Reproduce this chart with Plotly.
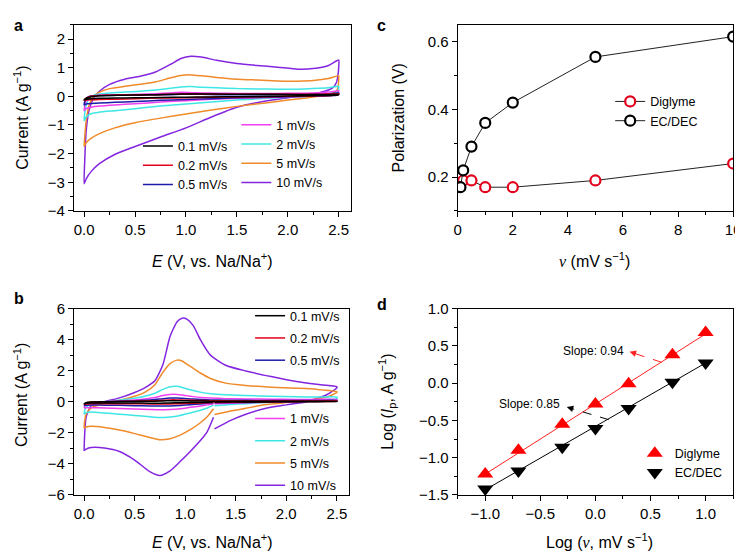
import plotly.graph_objects as go

# ---------------- Panel a : CV curves (EC/DEC) ----------------
EA_UP = [0, 0.005, 0.02, 0.05, 0.1, 0.15, 0.25, 0.4, 0.55, 0.7, 0.85, 0.95, 1.05, 1.15, 1.3, 1.5, 1.7, 1.9, 2.1, 2.25, 2.4, 2.5]
EA_DN = [2.5, 2.495, 2.48, 2.45, 2.4, 2.3, 2.2, 2.0, 1.8, 1.5, 1.25, 1.0, 0.75, 0.5, 0.3, 0.15, 0.07, 0.02, 0]

A10_UP = [-3.05, -2.3, -1.2, -0.45, -0.02, 0.18, 0.42, 0.6, 0.7, 0.85, 1.12, 1.32, 1.40, 1.37, 1.26, 1.15, 1.08, 1.02, 0.95, 0.97, 1.08, 1.27]
A10_DN = [1.03, 0.8, 0.5, 0.33, 0.22, 0.12, 0.06, -0.05, -0.15, -0.38, -0.72, -1.1, -1.42, -1.75, -2.03, -2.35, -2.62, -2.88, -3.05]
A5_UP = [-1.75, -1.45, -0.85, -0.3, 0.02, 0.15, 0.27, 0.35, 0.42, 0.5, 0.65, 0.73, 0.75, 0.72, 0.66, 0.6, 0.57, 0.54, 0.53, 0.55, 0.62, 0.72]
A5_DN = [0.62, 0.35, 0.2, 0.12, 0.06, 0.0, -0.05, -0.13, -0.22, -0.35, -0.48, -0.62, -0.76, -0.92, -1.1, -1.3, -1.46, -1.62, -1.75]
A2_UP = [-0.85, -0.6, -0.3, -0.05, 0.05, 0.08, 0.12, 0.15, 0.18, 0.22, 0.28, 0.33, 0.34, 0.32, 0.3, 0.27, 0.26, 0.25, 0.25, 0.27, 0.3, 0.35]
A2_DN = [0.3, 0.2, 0.12, 0.08, 0.06, 0.03, 0.0, -0.03, -0.07, -0.13, -0.2, -0.27, -0.34, -0.43, -0.5, -0.55, -0.6, -0.72, -0.85]
A1_UP = [-0.5, -0.35, -0.15, -0.02, 0.02, 0.04, 0.05, 0.06, 0.07, 0.09, 0.12, 0.14, 0.13, 0.12, 0.11, 0.1, 0.1, 0.1, 0.11, 0.12, 0.15, 0.2]
A1_DN = [0.18, 0.1, 0.06, 0.04, 0.03, 0.01, 0.0, -0.02, -0.04, -0.07, -0.1, -0.15, -0.2, -0.26, -0.3, -0.34, -0.38, -0.43, -0.5]
A05_UP = [-0.3, -0.2, -0.08, 0.0, 0.02, 0.03, 0.03, 0.04, 0.04, 0.05, 0.06, 0.07, 0.07, 0.07, 0.06, 0.06, 0.06, 0.06, 0.07, 0.08, 0.09, 0.12]
A05_DN = [0.1, 0.06, 0.04, 0.03, 0.02, 0.01, 0.0, -0.01, -0.03, -0.05, -0.08, -0.11, -0.14, -0.18, -0.21, -0.23, -0.25, -0.27, -0.3]
A02_UP = [-0.15, -0.12, -0.06, -0.01, 0.02, 0.03, 0.04, 0.05, 0.05, 0.06, 0.07, 0.08, 0.08, 0.08, 0.07, 0.07, 0.07, 0.07, 0.07, 0.07, 0.08, 0.09]
A02_DN = [0.08, 0.06, 0.05, 0.04, 0.03, 0.02, 0.01, 0.0, -0.01, -0.02, -0.03, -0.05, -0.06, -0.08, -0.1, -0.11, -0.12, -0.13, -0.15]
A01_UP = [-0.12, -0.1, -0.06, -0.03, 0.0, 0.02, 0.03, 0.04, 0.05, 0.06, 0.07, 0.08, 0.08, 0.08, 0.08, 0.07, 0.07, 0.07, 0.06, 0.06, 0.06, 0.07]
A01_DN = [0.06, 0.05, 0.04, 0.04, 0.03, 0.03, 0.02, 0.01, 0.0, -0.01, -0.02, -0.03, -0.04, -0.05, -0.06, -0.07, -0.08, -0.1, -0.12]

# ---------------- Panel b : CV curves (Diglyme) ----------------
EB_UP = [0, 0.005, 0.02, 0.07, 0.2, 0.35, 0.5, 0.6, 0.7, 0.78, 0.85, 0.92, 0.97, 1.02, 1.08, 1.15, 1.25, 1.4, 1.6, 1.85, 2.1, 2.3, 2.5]
EB_DN_R = [2.5, 2.4, 2.2, 2.0, 1.8, 1.6, 1.45, 1.29]
EB_DN_L = [1.28, 1.22, 1.15, 1.05, 0.95, 0.85, 0.75, 0.65, 0.5, 0.35, 0.2, 0.07, 0.02, 0]

B10_UP = [-3.15, -2.2, -1.0, -0.25, 0.0, 0.25, 0.6, 0.9, 1.35, 2.4, 4.2, 5.15, 5.38, 5.3, 4.9, 4.0, 3.0, 2.35, 1.98, 1.62, 1.3, 1.12, 0.97]
B10_DN_R = [0.9, 0.45, 0.0, -0.2, -0.42, -0.8, -1.2, -1.75]
B10_DN_L = [-1.0, -1.9, -2.5, -3.2, -3.85, -4.45, -4.75, -4.5, -3.75, -3.2, -2.98, -2.95, -3.05, -3.15]
B5_UP = [-1.7, -1.3, -0.8, -0.4, -0.1, 0.1, 0.35, 0.6, 1.1, 1.9, 2.45, 2.68, 2.62, 2.4, 2.15, 1.85, 1.5, 1.2, 1.05, 0.94, 0.87, 0.8, 0.65]
B5_DN_R = [0.6, 0.3, 0.1, -0.05, -0.18, -0.42, -0.6, -0.82]
B5_DN_L = [-0.45, -0.95, -1.35, -1.8, -2.15, -2.38, -2.45, -2.3, -2.05, -1.82, -1.65, -1.58, -1.62, -1.7]
B2_UP = [-0.8, -0.6, -0.35, -0.15, 0.0, 0.1, 0.22, 0.35, 0.55, 0.8, 0.97, 1.0, 0.92, 0.82, 0.72, 0.62, 0.52, 0.45, 0.4, 0.35, 0.32, 0.3, 0.3]
B2_DN_R = [0.2, 0.12, 0.05, 0.0, -0.05, -0.12, -0.18, -0.25]
B2_DN_L = [-0.22, -0.4, -0.55, -0.72, -0.88, -0.98, -1.02, -0.97, -0.88, -0.8, -0.72, -0.66, -0.7, -0.8]
B1_UP = [-0.4, -0.3, -0.18, -0.08, 0.0, 0.05, 0.12, 0.18, 0.28, 0.4, 0.47, 0.47, 0.43, 0.38, 0.33, 0.28, 0.24, 0.2, 0.18, 0.16, 0.15, 0.15, 0.15]
B1_DN_R = [0.1, 0.06, 0.03, 0.0, -0.03, -0.07, -0.1, -0.13]
B1_DN_L = [-0.13, -0.2, -0.27, -0.36, -0.45, -0.5, -0.52, -0.5, -0.46, -0.43, -0.4, -0.38, -0.38, -0.4]
B05_UP = [-0.25, -0.18, -0.1, -0.04, 0.0, 0.03, 0.06, 0.09, 0.14, 0.2, 0.24, 0.24, 0.22, 0.2, 0.17, 0.14, 0.12, 0.1, 0.09, 0.08, 0.08, 0.08, 0.08]
B05_DN_R = [0.05, 0.03, 0.01, 0.0, -0.02, -0.04, -0.05, -0.07]
B05_DN_L = [-0.07, -0.1, -0.14, -0.19, -0.24, -0.27, -0.28, -0.27, -0.25, -0.23, -0.22, -0.21, -0.22, -0.25]
B02_UP = [-0.18, -0.13, -0.07, -0.03, 0.0, 0.02, 0.04, 0.05, 0.07, 0.1, 0.12, 0.12, 0.11, 0.1, 0.09, 0.08, 0.07, 0.06, 0.05, 0.05, 0.05, 0.05, 0.05]
B02_DN_R = [0.03, 0.02, 0.01, 0.0, -0.01, -0.02, -0.03, -0.04]
B02_DN_L = [-0.04, -0.06, -0.08, -0.1, -0.12, -0.14, -0.15, -0.14, -0.13, -0.12, -0.12, -0.12, -0.14, -0.18]
B01_UP = [-0.15, -0.11, -0.06, -0.02, 0.0, 0.01, 0.02, 0.03, 0.04, 0.05, 0.07, 0.07, 0.06, 0.06, 0.05, 0.05, 0.04, 0.04, 0.03, 0.03, 0.03, 0.03, 0.03]
B01_DN_R = [0.02, 0.01, 0.0, 0.0, -0.01, -0.01, -0.02, -0.02]
B01_DN_L = [-0.02, -0.03, -0.04, -0.05, -0.06, -0.08, -0.09, -0.09, -0.08, -0.08, -0.08, -0.08, -0.1, -0.15]

RATE_LABELS = ["0.1 mV/s", "0.2 mV/s", "0.5 mV/s", "1 mV/s", "2 mV/s", "5 mV/s", "10 mV/s"]
RATE_COLORS = ["#000000", "#e3001b", "#1c1ca8", "#f23ff2", "#3fe6e6", "#f08a2a", "#8426e0"]

# ---------------- Panel c : polarization ----------------
C_RATE = [0.1, 0.2, 0.5, 1, 2, 5, 10]
C_DIGLYME = [0.20, 0.19, 0.19, 0.17, 0.17, 0.19, 0.24]
C_ECDEC = [0.17, 0.22, 0.29, 0.36, 0.42, 0.555, 0.615]

# ---------------- Panel d : log Ip vs log v ----------------
D_LOGV = [-1.0, -0.699, -0.301, 0.0, 0.301, 0.699, 1.0]
D_DIGLYME = [-1.22, -0.90, -0.55, -0.28, -0.01, 0.38, 0.68]
D_ECDEC = [-1.42, -1.18, -0.86, -0.61, -0.34, 0.01, 0.27]
D_FIT_X = [-1.0, 1.0]
D_FIT_DIGLYME = [-1.22, 0.66]
D_FIT_ECDEC = [-1.43, 0.27]

FONT = "Arial, Liberation Sans, Helvetica, sans-serif"
W, H = 743, 558
TICK_SIZE = 15
TITLE_SIZE = 16
LEG_SIZE = 12.5

fig = go.Figure()

a_up = [A01_UP, A02_UP, A05_UP, A1_UP, A2_UP, A5_UP, A10_UP]
a_dn = [A01_DN, A02_DN, A05_DN, A1_DN, A2_DN, A5_DN, A10_DN]
b_up = [B01_UP, B02_UP, B05_UP, B1_UP, B2_UP, B5_UP, B10_UP]
b_dnr = [B01_DN_R, B02_DN_R, B05_DN_R, B1_DN_R, B2_DN_R, B5_DN_R, B10_DN_R]
b_dnl = [B01_DN_L, B02_DN_L, B05_DN_L, B1_DN_L, B2_DN_L, B5_DN_L, B10_DN_L]

for i in reversed(range(7)):
    fig.add_trace(go.Scatter(
        x=EA_UP + EA_DN, y=a_up[i] + a_dn[i], mode="lines",
        line=dict(color=RATE_COLORS[i], width=1.5, shape="spline", smoothing=0.6),
        name=RATE_LABELS[i], legend="legend" if i < 3 else "legend2",
        legendrank=i, xaxis="x", yaxis="y"))
for i in reversed(range(7)):
    fig.add_trace(go.Scatter(
        x=EB_UP + EB_DN_R + [None] + EB_DN_L,
        y=b_up[i] + b_dnr[i] + [None] + b_dnl[i], mode="lines",
        line=dict(color=RATE_COLORS[i], width=1.5, shape="spline", smoothing=0.6),
        name=RATE_LABELS[i], legend="legend3" if i < 3 else "legend4",
        legendgroup="b%d" % i, legendrank=i, connectgaps=False, xaxis="x2", yaxis="y2"))

# panel c
fig.add_trace(go.Scatter(x=C_RATE, y=C_DIGLYME, mode="lines+markers", name="Diglyme",
                         line=dict(color="#222222", width=1),
                         marker=dict(symbol="circle", size=10, color="white",
                                     line=dict(color="#e3001b", width=2.2)),
                         legend="legend5", legendrank=1, xaxis="x3", yaxis="y3"))
fig.add_trace(go.Scatter(x=C_RATE, y=C_ECDEC, mode="lines+markers", name="EC/DEC",
                         line=dict(color="#222222", width=1),
                         marker=dict(symbol="circle", size=10, color="white",
                                     line=dict(color="#000000", width=2.2)),
                         legend="legend5", legendrank=2, xaxis="x3", yaxis="y3"))

# panel d
fig.add_trace(go.Scatter(x=D_FIT_X, y=D_FIT_DIGLYME, mode="lines", showlegend=False,
                         line=dict(color="#ff2020", width=1), xaxis="x4", yaxis="y4"))
fig.add_trace(go.Scatter(x=D_FIT_X, y=D_FIT_ECDEC, mode="lines", showlegend=False,
                         line=dict(color="#000000", width=1), xaxis="x4", yaxis="y4"))
fig.add_trace(go.Scatter(x=D_LOGV, y=D_DIGLYME, mode="markers", name="Diglyme",
                         marker=dict(symbol="triangle-up", size=14, color="#ff0000"),
                         legend="legend6", legendrank=1, xaxis="x4", yaxis="y4"))
fig.add_trace(go.Scatter(x=D_LOGV, y=D_ECDEC, mode="markers", name="EC/DEC",
                         marker=dict(symbol="triangle-down", size=14, color="#000000"),
                         legend="legend6", legendrank=2, xaxis="x4", yaxis="y4"))


def px_x(p):
    return p / W


def px_y(p):
    return 1 - p / H


def axis(domain, rng, dtick, minor, fmt, anchor, side):
    return dict(domain=domain, range=rng, dtick=dtick, tick0=0, tickformat=fmt,
                showline=True, linecolor="black", linewidth=1, mirror=True,
                ticks="outside", ticklen=5, tickwidth=1, tickcolor="black",
                minor=dict(dtick=minor, ticks="outside", ticklen=3, tickwidth=1, tickcolor="black"),
                showgrid=False, zeroline=False, anchor=anchor, side=side,
                tickfont=dict(family=FONT, size=TICK_SIZE, color="black"))


XA = [px_x(63), px_x(345)]
XB = [px_x(63), px_x(343)]
XC = [px_x(453), px_x(733)]
YT = [px_y(200), px_y(8)]
YB = [px_y(493), px_y(300.7)]

legend_common = dict(bgcolor="rgba(0,0,0,0)", font=dict(family=FONT, size=LEG_SIZE, color="black"),
                     xanchor="left", yanchor="top", itemwidth=30)

fig.update_layout(
    width=W, height=H, margin=dict(l=0, r=0, t=0, b=0),
    paper_bgcolor="white", plot_bgcolor="white",
    font=dict(family=FONT, size=14, color="black"),
    xaxis=axis(XA, [-0.1, 2.625], 0.5, 0.25, ".1f", "y", "bottom"),
    yaxis=axis(YT, [-4, 2.5], 1, 0.5, "d", "x", "left"),
    xaxis2=axis(XB, [-0.1, 2.625], 0.5, 0.25, ".1f", "y2", "bottom"),
    yaxis2=axis(YB, [-6, 6], 2, 1, "d", "x2", "left"),
    xaxis3=axis(XC, [0, 10], 2, 1, "d", "y3", "bottom"),
    yaxis3=axis(YT, [0.1, 0.65], 0.2, 0.1, ".1f", "x3", "left"),
    xaxis4=axis(XC, [-1.25, 1.25], 0.5, 0.25, ".1f", "y4", "bottom"),
    yaxis4=axis(YB, [-1.5, 1.0], 0.5, 0.25, ".1f", "x4", "left"),
    legend=dict(x=px_x(128), y=px_y(118), tracegroupgap=0, traceorder="normal", **legend_common),
    legend2=dict(x=px_x(228), y=px_y(96), tracegroupgap=0, traceorder="normal", **legend_common),
    legend3=dict(x=px_x(242), y=px_y(293), tracegroupgap=3, traceorder="grouped", **legend_common),
    legend4=dict(x=px_x(242), y=px_y(399), tracegroupgap=3, traceorder="grouped", **legend_common),
    legend5=dict(x=px_x(608), y=px_y(72), tracegroupgap=0, traceorder="normal", **legend_common),
    legend6=dict(x=px_x(633), y=px_y(435), tracegroupgap=0, traceorder="normal", **legend_common),
)

ann = []


def title(text, x, y, angle=0, size=TITLE_SIZE):
    ann.append(dict(text=text, x=px_x(x), y=px_y(y), xref="paper", yref="paper",
                    showarrow=False, textangle=angle, xanchor="center", yanchor="middle",
                    font=dict(family=FONT, size=size, color="black")))


def letter(text, x, y):
    ann.append(dict(text="<b>" + text + "</b>", x=px_x(x), y=px_y(y), xref="paper", yref="paper",
                    showarrow=False, xanchor="left", yanchor="top",
                    font=dict(family=FONT, size=16, color="black")))


XT = "<i>E</i> (V, vs. Na/Na<sup>+</sup>)"
YTXT = "Current (A g<sup>−1</sup>)"
VITAL = "<span style='font-family:Liberation Serif, Times New Roman, serif'><i>v</i></span>"
title(XT, 204, 251)
title(YTXT, 9, 104, -90)
title(XT, 204, 540)
title(YTXT, 9, 390, -90)
title(VITAL + " (mV s<sup>−1</sup>)", 592, 251)
title("Polarization (V)", 393, 104, -90)
title("Log (" + VITAL + ", mV s<sup>−1</sup>)", 597, 540)
title("Log (<i>I</i><sub>p</sub>, A g<sup>−1</sup>)", 381, 397, -90)
letter("a", 0, -2)
letter("c", 369, -2)
letter("b", 0, 280)
letter("d", 369, 286)

# slope annotations in panel d
ann.append(dict(text="Slope: 0.94", x=-0.02, y=0.43, xref="x4", yref="y4", showarrow=False,
                font=dict(family=FONT, size=12, color="black")))
ann.append(dict(text="Slope: 0.85", x=-0.60, y=-0.28, xref="x4", yref="y4", showarrow=False,
                font=dict(family=FONT, size=12, color="black")))
ann.append(dict(text="", x=0.31, y=0.42, ax=0.37, ay=0.395, xref="x4", yref="y4",
                axref="x4", ayref="y4", showarrow=True, arrowhead=2, arrowsize=1.3,
                arrowwidth=1, arrowcolor="#ff2020"))
ann.append(dict(text="", x=-0.26, y=-0.32, ax=-0.19, ay=-0.35, xref="x4", yref="y4",
                axref="x4", ayref="y4", showarrow=True, arrowhead=2, arrowsize=1.3,
                arrowwidth=1, arrowcolor="#000000"))
fig.update_layout(annotations=ann)

fig.add_shape(type="line", x0=0.6, y0=0.28, x1=0.33, y1=0.41, xref="x4", yref="y4",
              line=dict(color="#ff2020", width=1, dash="dash"))
fig.add_shape(type="line", x0=0.12, y0=-0.49, x1=-0.24, y1=-0.33, xref="x4", yref="y4",
              line=dict(color="#000000", width=1, dash="dash"))

fig.write_html("out.html")
